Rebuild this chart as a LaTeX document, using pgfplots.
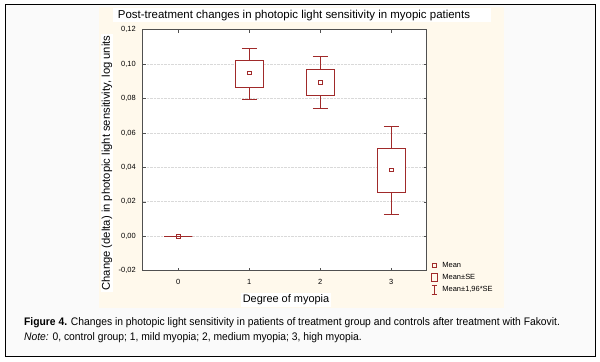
\documentclass[border=0pt]{standalone}
\usepackage{fontspec}
\setmainfont{Liberation Sans}
\newfontfamily\capfont[FakeStretch=0.94]{Liberation Sans}
\usepackage{pgfplots}
\pgfplotsset{compat=1.18}
\definecolor{boxred}{RGB}{160,42,42}
\definecolor{cream}{RGB}{255,249,236}
\definecolor{axgray}{RGB}{80,80,80}
\begin{document}
\begin{tikzpicture}[x=1bp,y=1bp]
\useasboundingbox (0,0) rectangle (600,361);
\fill[white] (0,0) rectangle (600,361);
\fill[black!2] (5,5) rectangle (595,356);
\draw[black, line width=1bp] (5,5) rectangle (595,356);
\fill[cream] (99,53) rectangle (504,354);
\fill[white] (113,339) rectangle (491,353);
\node[font=\fontsize{11.5}{13}\selectfont, inner sep=0pt] at (294,345.5) {Post-treatment changes in photopic light sensitivity in myopic patients};
\node[rotate=90, fill=white, inner sep=1bp, font=\fontsize{11.3}{13}\selectfont] at (107,198) {Change (delta) in photopic light sensitivity, log units};
\node[fill=white, inner sep=1.5bp, font=\fontsize{11}{13}\selectfont] at (286,61) {Degree of myopia};
\node[anchor=west, inner sep=0pt, font=\capfont\fontsize{11}{13}\selectfont] at (24,38) {\textbf{Figure 4.} Changes in photopic light sensitivity in patients of treatment group and controls after treatment with Fakovit.};
\node[anchor=west, inner sep=0pt, font=\capfont\fontsize{11}{13}\selectfont] at (24,23) {\textit{Note:} 0, control group; 1, mild myopia; 2, medium myopia; 3, high myopia.};
\begin{axis}[
  at={(142.7bp,90.3bp)}, anchor=south west,
  scale only axis, width=284bp, height=241bp,
  axis background/.style={fill=white},
  xmin=-0.5, xmax=3.5, ymin=-0.02, ymax=0.12,
  xtick={0,1,2,3},
  ytick={-0.02,0,0.02,0.04,0.06,0.08,0.10,0.12},
  ymajorgrids, major grid style={densely dotted, color=black!15, line width=0.8bp},
  axis line style={draw=axgray, line width=1.2bp},
  tick style={draw=axgray, line width=0.6bp},
  major tick length=3bp, tick align=inside,
  ticklabel style={font=\fontsize{7.5}{8}\selectfont},
  yticklabel style={xshift=-3.5bp, /pgf/number format/.cd, fixed, fixed zerofill, precision=2, use comma, assume math mode=true},
  xticklabel style={yshift=-5bp, /pgf/number format/assume math mode=true},
  legend style={at={(1.015,0.045)}, anchor=north west, draw=none, fill=none,
    font=\fontsize{7.5}{8}\selectfont, inner sep=0pt, row sep=1.5bp,
    /tikz/every odd column/.append style={column sep=3bp}},
  legend cell align=left,
]
% whiskers (mean +/- 1.96 SE) with caps
\addplot[boxred, line width=0.9bp, forget plot] table[x=x, y=y] {
x y
0 0
0 0

-0.105 0
0.105 0

1 0.1019
1 0.1092

0.895 0.1092
1.105 0.1092

1 0.0866
1 0.0797

0.895 0.0797
1.105 0.0797

2 0.0969
2 0.1044

1.895 0.1044
2.105 0.1044

2 0.0816
2 0.0745

1.895 0.0745
2.105 0.0745

3 0.0510
3 0.0638

2.895 0.0638
3.105 0.0638

3 0.0253
3 0.0128

2.895 0.0128
3.105 0.0128
};
% boxes (mean +/- SE)
\addplot[boxred, line width=0.9bp, fill=white, forget plot] coordinates {(-0.2,0) (0.2,0) (0.2,0) (-0.2,0)} -- cycle;
\addplot[boxred, line width=0.9bp, fill=white, forget plot] coordinates {(0.8,0.0866) (1.2,0.0866) (1.2,0.1019) (0.8,0.1019)} -- cycle;
\addplot[boxred, line width=0.9bp, fill=white, forget plot] coordinates {(1.8,0.0816) (2.2,0.0816) (2.2,0.0969) (1.8,0.0969)} -- cycle;
\addplot[boxred, line width=0.9bp, fill=white, forget plot] coordinates {(2.8,0.0253) (3.2,0.0253) (3.2,0.0510) (2.8,0.0510)} -- cycle;
% means
\addplot[boxred, only marks, mark=square, mark size=1.7bp, line width=0.8bp, forget plot] coordinates {(0,0) (1,0.0948) (2,0.0895) (3,0.0387)};
\addlegendimage{legend image code/.code={\draw[boxred, line width=0.8bp] (1bp,-1.7bp) rectangle (4.4bp,1.7bp);}}
\addlegendentry{Mean}
\addlegendimage{legend image code/.code={\draw[boxred, line width=0.8bp] (0bp,-4bp) rectangle (5.5bp,4bp);}}
\addlegendentry{Mean±SE}
\addlegendimage{legend image code/.code={\draw[boxred, line width=0.8bp] (2.75bp,-4.5bp)--(2.75bp,4.5bp) (0bp,-4.5bp)--(5.5bp,-4.5bp) (0bp,4.5bp)--(5.5bp,4.5bp);}}
\addlegendentry{Mean±1,96*SE}
\end{axis}
\end{tikzpicture}
\end{document}
